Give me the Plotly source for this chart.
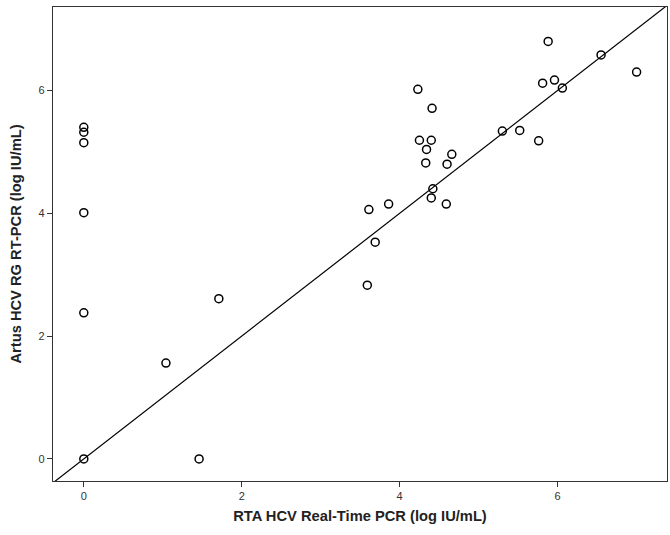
import plotly.graph_objects as go

rta_x = [0, 0, 0, 0, 0, 0, 1.04, 1.46, 1.71, 3.59, 3.61, 3.69, 3.86, 4.23, 4.25, 4.40,
         4.41, 4.34, 4.33, 4.42, 4.40, 4.59, 4.60, 4.66, 5.30, 5.52, 5.76, 5.81, 5.88,
         5.96, 6.06, 6.55, 7.00]
artus_y = [0, 2.38, 4.01, 5.15, 5.32, 5.40, 1.56, 0, 2.61, 2.83, 4.06, 3.53, 4.15, 6.02,
           5.19, 5.19, 5.71, 5.04, 4.82, 4.40, 4.25, 4.15, 4.80, 4.96, 5.34, 5.35, 5.18,
           6.12, 6.80, 6.17, 6.04, 6.58, 6.30]
x_range = [-0.39, 7.385]
y_range = [-0.36, 7.36]
identity_line = [-0.5, 7.5]
tick_vals = [0, 2, 4, 6]

fig = go.Figure()
fig.add_trace(go.Scatter(x=identity_line, y=identity_line, mode="lines",
                         line=dict(color="black", width=1.2), hoverinfo="skip",
                         showlegend=False))
fig.add_trace(go.Scatter(x=rta_x, y=artus_y, mode="markers",
                         marker=dict(symbol="circle-open", size=8,
                                     color="black", line=dict(width=1.5, color="black")),
                         showlegend=False))

axis_common = dict(tickvals=tick_vals, ticks="outside", ticklen=5,
                   tickwidth=1.2, tickcolor="#333", showline=True, linecolor="#333",
                   linewidth=1.2, mirror=True, showgrid=False, zeroline=False,
                   tickfont=dict(family="Arial, Liberation Sans", size=11, color="#333"))

fig.update_xaxes(**axis_common, range=x_range,
                 title=dict(text="<b>RTA HCV Real-Time PCR (log IU/mL)</b>",
                            font=dict(family="Arial, Liberation Sans", size=14.7, color="#222"),
                            standoff=9))
fig.update_yaxes(**axis_common, range=y_range,
                 title=dict(text="<b>Artus HCV RG RT-PCR (log IU/mL)</b>",
                            font=dict(family="Arial, Liberation Sans", size=14.7, color="#222"),
                            standoff=13))

fig.update_layout(width=670, height=535, margin=dict(l=53, r=3, t=7, b=54),
                  plot_bgcolor="white", paper_bgcolor="white")

fig.write_html("out.html", config={"displayModeBar": False},
               post_script="document.body.style.margin='0';document.body.style.overflow='hidden';")
